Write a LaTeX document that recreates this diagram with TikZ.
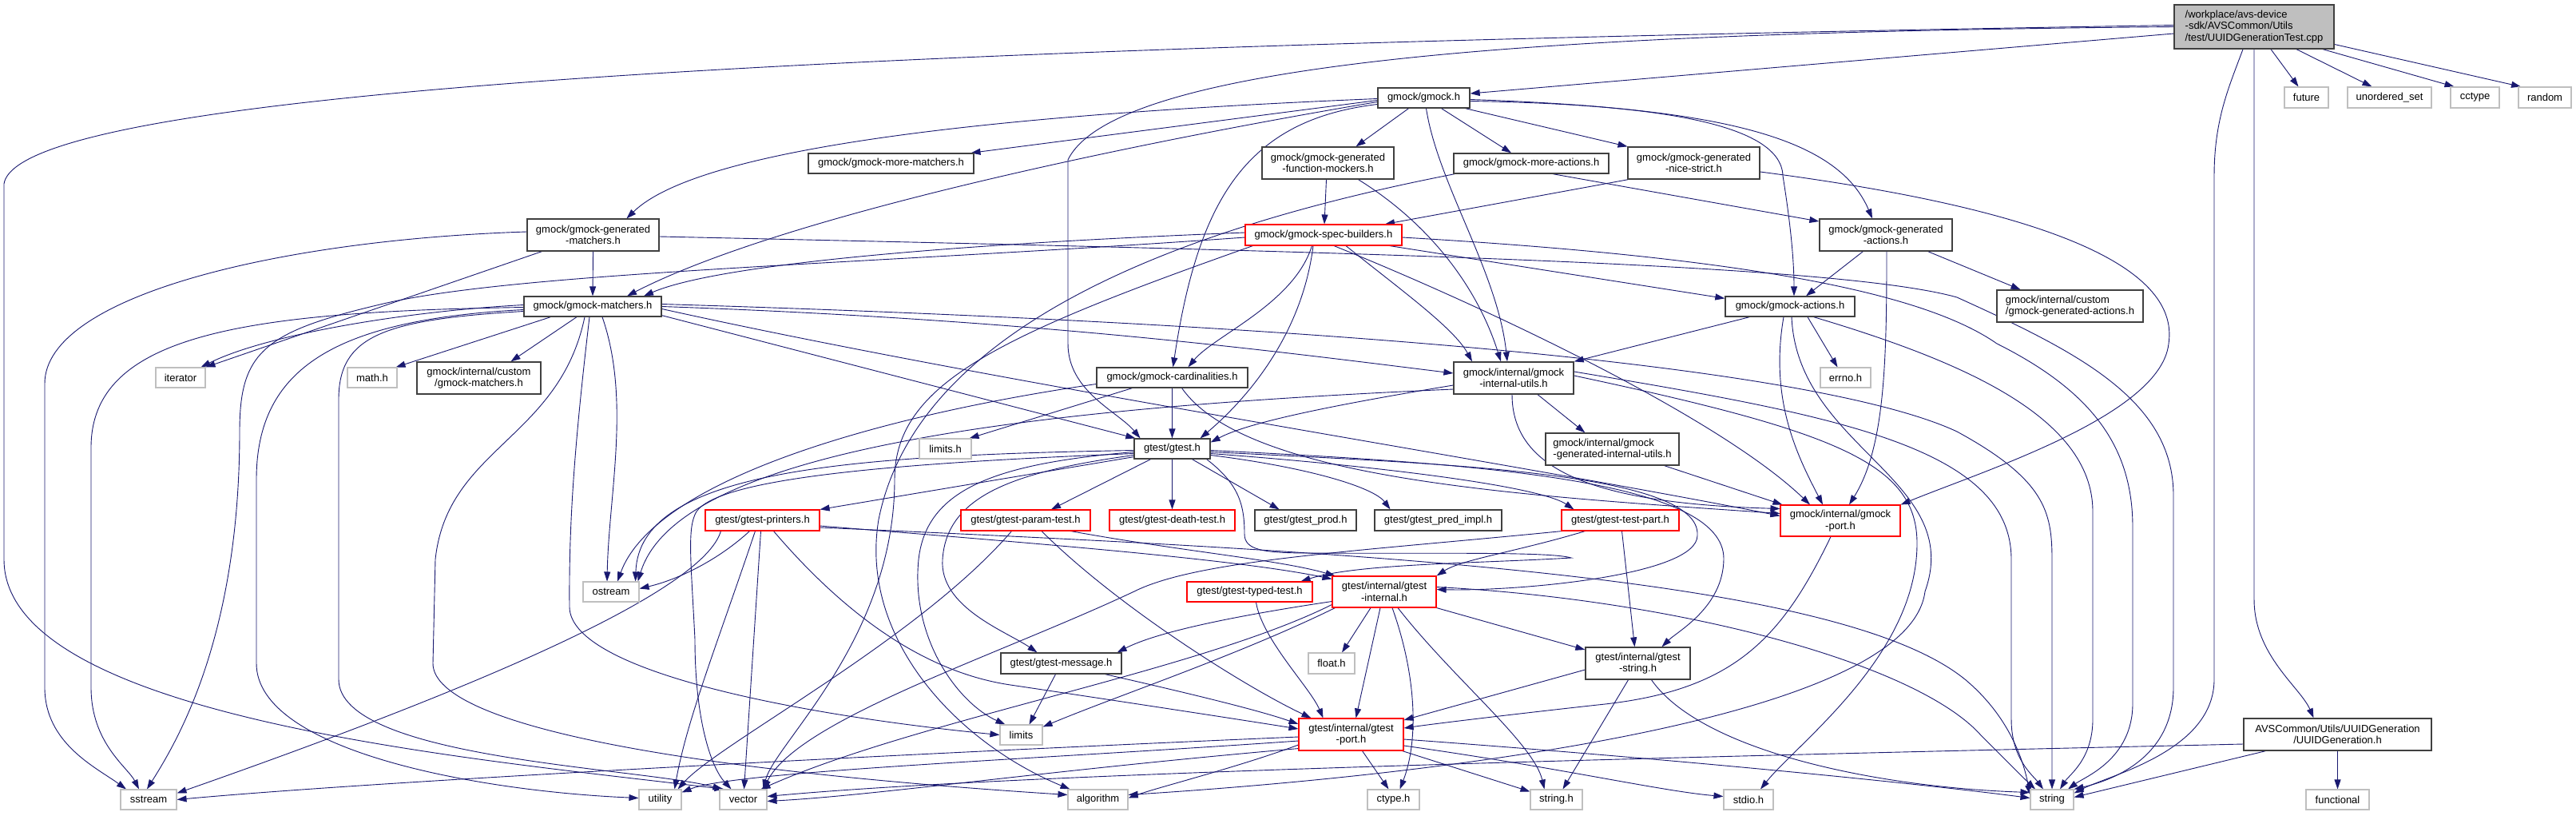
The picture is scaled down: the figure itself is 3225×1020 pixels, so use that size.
\documentclass[tikz,border=0pt]{standalone}
\usepackage{fontspec}
\setmainfont{Liberation Sans}
\usetikzlibrary{arrows.meta,calc,backgrounds}
\definecolor{edgeblue}{HTML}{191970}
\definecolor{sysgray}{HTML}{BFBFBF}
\definecolor{bordk}{HTML}{404040}
\newcommand{\mynode}[6]{\node[#1, minimum width=#4pt, minimum height=#5pt] (#2) at #3 {#6};}
\tikzset{
  hdr/.style={draw=bordk, line width=1.3pt, fill=white, inner sep=0pt, align=center, font=\fontsize{13}{14.5}\selectfont},
  redn/.style={draw=red, line width=1.1pt, fill=white, inner sep=0pt, align=center, font=\fontsize{13}{14.5}\selectfont},
  sysn/.style={draw=sysgray, line width=1.1pt, fill=white, inner sep=0pt, align=center, font=\fontsize{13}{14.5}\selectfont},
  rootn/.style={draw=bordk, line width=1.3pt, fill=sysgray, inner sep=0pt, align=left, font=\fontsize{13}{14.5}\selectfont},
  dep/.style={draw=edgeblue, line width=0.9pt, -{Triangle[length=12pt,width=8pt]}},
}
\begin{document}
\begin{tikzpicture}[x=1pt,y=-1pt]
\useasboundingbox (0,0) rectangle (3225,1020);
% ---------------- nodes
\mynode{rootn}{r}{(2822,33.5)}{200}{55}{/workplace/avs-device\\-sdk/AVSCommon/Utils\\/test/UUIDGenerationTest.cpp}
\mynode{sysn}{fut}{(2887.5,122)}{55}{26}{future}
\mynode{sysn}{uset}{(2991.5,122)}{105}{26}{unordered\_set}
\mynode{sysn}{cct}{(3098.5,122)}{61}{26}{cctype}
\mynode{sysn}{rnd}{(3186,122)}{66}{26}{random}
\mynode{hdr}{gm}{(1782.5,122.5)}{115}{25}{gmock/gmock.h}
\mynode{hdr}{mm}{(1115.5,204.5)}{207}{25}{gmock/gmock-more-matchers.h}
\mynode{hdr}{fm}{(1662.5,204)}{165}{40}{gmock/gmock-generated\\-function-mockers.h}
\mynode{hdr}{ma}{(1917,204.5)}{194}{25}{gmock/gmock-more-actions.h}
\mynode{hdr}{ns}{(2120.5,204)}{165}{40}{gmock/gmock-generated\\-nice-strict.h}
\mynode{hdr}{gmat}{(742.5,294)}{165}{40}{gmock/gmock-generated\\-matchers.h}
\mynode{redn}{sb}{(1657,294)}{196}{26}{gmock/gmock-spec-builders.h}
\mynode{hdr}{gact}{(2361,294)}{166}{40}{gmock/gmock-generated\\-actions.h}
\mynode{hdr}{mat}{(742,383.5)}{172}{25}{gmock/gmock-matchers.h}
\mynode{hdr}{act}{(2241,383.5)}{162}{25}{gmock/gmock-actions.h}
\mynode{hdr,align=left}{cga}{(2591.5,383)}{183}{40}{gmock/internal/custom\\/gmock-generated-actions.h}
\mynode{sysn}{it}{(226,472.5)}{62}{25}{iterator}
\mynode{sysn}{math}{(466,472.5)}{62}{25}{math.h}
\mynode{hdr}{cmat}{(599.5,473)}{155}{40}{gmock/internal/custom\\/gmock-matchers.h}
\mynode{hdr}{card}{(1467.5,472.5)}{189}{25}{gmock/gmock-cardinalities.h}
\mynode{hdr}{iu}{(1895,473)}{150}{40}{gmock/internal/gmock\\-internal-utils.h}
\mynode{sysn}{errno}{(2310.5,472.5)}{63}{25}{errno.h}
\mynode{hdr,align=left}{giu}{(2018.5,562)}{167}{40}{gmock/internal/gmock\\-generated-internal-utils.h}
\mynode{sysn}{limh}{(1183.5,561.5)}{65}{25}{limits.h}
\mynode{hdr}{gt}{(1467.5,561.5)}{95}{25}{gtest/gtest.h}
\mynode{redn}{gmp}{(2304,651.5)}{150}{39}{gmock/internal/gmock\\-port.h}
\mynode{redn}{pr}{(954.5,651)}{143}{26}{gtest/gtest-printers.h}
\mynode{redn}{pt}{(1284,651)}{162}{26}{gtest/gtest-param-test.h}
\mynode{redn}{dt}{(1467.5,651)}{157}{26}{gtest/gtest-death-test.h}
\mynode{hdr}{prod}{(1634.5,651)}{127}{26}{gtest/gtest\_prod.h}
\mynode{hdr}{pred}{(1800.5,651)}{159}{26}{gtest/gtest\_pred\_impl.h}
\mynode{redn}{tp}{(2028.5,651)}{147}{26}{gtest/gtest-test-part.h}
\mynode{sysn}{ost}{(765,740.5)}{70}{25}{ostream}
\mynode{redn}{tt}{(1564.5,740.5)}{157}{25}{gtest/gtest-typed-test.h}
\mynode{redn}{gti}{(1733,740.5)}{130}{39}{gtest/internal/gtest\\-internal.h}
\mynode{hdr}{msg}{(1328.5,830)}{151}{26}{gtest/gtest-message.h}
\mynode{sysn}{flt}{(1667,830)}{58}{26}{float.h}
\mynode{hdr}{gts}{(2050.5,830)}{131}{40}{gtest/internal/gtest\\-string.h}
\mynode{redn}{gtp}{(1691.5,919)}{131}{40}{gtest/internal/gtest\\-port.h}
\mynode{hdr}{uuid}{(2926.5,919)}{235}{40}{AVSCommon/Utils/UUIDGeneration\\/UUIDGeneration.h}
\mynode{sysn}{lim}{(1278.5,919.5)}{53}{25}{limits}
\mynode{sysn}{sst}{(186,1000.5)}{70}{25}{sstream}
\mynode{sysn}{util}{(826.5,1000.5)}{53}{25}{utility}
\mynode{sysn}{vec}{(930.5,1000.5)}{59}{25}{vector}
\mynode{sysn}{alg}{(1374.5,1000.5)}{75}{25}{algorithm}
\mynode{sysn}{cty}{(1744.5,1000.5)}{65}{25}{ctype.h}
\mynode{sysn}{strh}{(1948.5,1000.5)}{65}{25}{string.h}
\mynode{sysn}{stdio}{(2189,1000.5)}{62}{25}{stdio.h}
\mynode{sysn}{str}{(2569,1000.5)}{54}{25}{string}
\mynode{sysn}{func}{(2926.5,1000.5)}{79}{25}{functional}
% ---------------- edges
\begin{pgfonlayer}{background}
\fill[white] (0,0) rectangle (3225,1020);
% root
\draw[dep] ($(r.south)+(21,0)$) -- ($(fut.north)+(-10,0)$);
\draw[dep] ($(r.south)+(53,0)$) -- ($(uset.north)+(-22,0)$);
\draw[dep] ($(r.south)+(86,0)$) -- ($(cct.north)+(-26,0)$);
\draw[dep] ($(r.east)+(0,22)$) -- ($(rnd.north)+(-30,0)$);
\draw[dep] ($(r.south)+(-14,0)$) .. controls (2790,110) and (2772,150) .. (2772,220) -- (2772,850) .. controls (2772,940) and (2640,970) .. ($(str.east)+(0,-8)$);
\draw[dep] (r.south) -- (2822,750) .. controls (2822,820) and (2880,860) .. ($(uuid.north)+(-30,0)$);
\draw[dep] ($(r.west)+(0,8.5)$) -- ($(gm.east)+(0,-5.5)$);
\draw[dep] (r.west) .. controls (2000,40) and (1400,70) .. (1337,200) -- (1337,430) .. controls (1337,490) and (1400,515) .. ($(gt.north)+(-40,0)$);
\draw[dep] ($(r.west)+(0,-2)$) .. controls (1300,55) and (25,100) .. (5,230) -- (5,700) .. controls (5,900) and (600,950) .. ($(vec.north)+(-24,0)$);
% gmock.h
\draw[dep] ($(gm.south)+(-19,0)$) -- ($(fm.north)+(35,0)$);
\draw[dep] ($(gm.south)+(3,0)$) .. controls (1800,230) and (1875,340) .. ($(iu.north)+(-8,0)$);
\draw[dep] ($(gm.south)+(22,0)$) -- ($(ma.north)+(-25,0)$);
\draw[dep] ($(gm.south)+(52,0)$) -- ($(ns.north)+(-83,0)$);
\draw[dep] ($(gm.east)+(0,4)$) .. controls (2050,130) and (2230,150) .. (2232,220) .. controls (2240,270) and (2246,320) .. ($(act.north)+(5,0)$);
\draw[dep] ($(gm.east)+(0,2)$) .. controls (2150,135) and (2300,170) .. ($(gact.north)+(-17,0)$);
\draw[dep] ($(gm.west)+(0,1)$) .. controls (1200,145) and (870,190) .. ($(gmat.north)+(42,0)$);
\draw[dep] ($(gm.west)+(0,3)$) -- ($(mm.north)+(100,0)$);
\draw[dep] ($(gm.west)+(0,5)$) .. controls (1500,165) and (1000,260) .. ($(mat.north)+(43,0)$);
\draw[dep] ($(gm.west)+(0,8)$) .. controls (1560,150) and (1500,250) .. ($(card.north)+(1,0)$);
% function mockers
\draw[dep] ($(fm.south)+(-2,0)$) -- ($(sb.north)+(1,0)$);
\draw[dep] ($(fm.south)+(38,0)$) .. controls (1790,280) and (1850,360) .. ($(iu.north)+(-16,0)$);
% more actions
\draw[dep] ($(ma.south west)+(2,0)$) .. controls (1500,280) and (1150,400) .. (1100,650) .. controls (1075,800) and (1200,930) .. ($(alg.north)+(-35,0)$);
\draw[dep] ($(ma.south)+(27,0)$) -- ($(gact.west)+(0,-17)$);
% nice strict
\draw[dep] ($(ns.south west)+(1,0)$) -- ($(sb.north)+(77,0)$);
\draw[dep] ($(ns.east)+(0,11)$) .. controls (2550,260) and (2730,330) .. (2715,430) .. controls (2705,520) and (2480,590) .. (gmp.north east);
% generated matchers
\draw[dep] ($(gmat.west)+(0,-4)$) .. controls (350,300) and (56,370) .. (56,480) -- (56,860) .. controls (56,930) and (120,960) .. ($(sst.north)+(-28,0)$);
\draw[dep] ($(gmat.south west)+(19,0)$) -- (it.north east);
\draw[dep] (gmat.south) -- (mat.north);
\draw[dep] ($(gmat.east)+(0,2)$) .. controls (1700,315) and (2300,330) .. (2450,372) .. controls (2600,440) and (2721,500) .. (2721,620) -- (2721,860) .. controls (2721,945) and (2650,975) .. (str.north east);
% spec builders
\draw[dep] ($(sb.west)+(0,-3)$) .. controls (1200,305) and (900,330) .. ($(mat.north)+(64,0)$);
\draw[dep] ($(sb.west)+(0,3)$) .. controls (1100,330) and (650,340) .. (480,380) .. controls (330,415) and (300,440) .. (300,540) .. controls (300,800) and (220,930) .. ($(sst.north)+(-2,0)$);
\draw[dep] ($(sb.south west)+(10,0)$) .. controls (1250,420) and (1120,480) .. (1120,600) .. controls (1120,800) and (970,930) .. ($(vec.north)+(25,0)$);
\draw[dep] ($(sb.south east)+(-16,0)$) -- ($(act.north west)+(0,3)$);
\draw[dep] ($(sb.south west)+(84,0)$) .. controls (1620,380) and (1520,420) .. ($(card.north)+(20,0)$);
\draw[dep] ($(sb.south)+(-13,0)$) .. controls (1630,420) and (1560,500) .. ($(gt.north east)+(-13,0)$);
\draw[dep] ($(sb.south)+(28,0)$) .. controls (1750,360) and (1820,410) .. ($(iu.north)+(-52,0)$);
\draw[dep] ($(sb.south)+(13,0)$) .. controls (1850,380) and (2150,520) .. ($(gmp.north)+(-38,0)$);
\draw[dep] ($(sb.east)+(0,3)$) .. controls (2150,320) and (2400,360) .. (2500,430) .. controls (2620,490) and (2670,560) .. (2670,660) -- (2670,880) .. controls (2670,950) and (2610,972) .. ($(str.north)+(20,0)$);
% matchers
\draw[dep] ($(mat.south west)+(34,0)$) -- ($(math.north east)+(-2,0)$);
\draw[dep] ($(mat.south)+(-20,0)$) -- ($(cmat.north)+(40,0)$);
\draw[dep] ($(mat.west)+(0,-2)$) .. controls (500,390) and (330,420) .. ($(it.north east)+(-6,0)$);
\draw[dep] ($(mat.west)+(0,1)$) .. controls (300,390) and (114,420) .. (114,560) -- (114,860) .. controls (114,930) and (160,960) .. ($(sst.north)+(-12,0)$);
\draw[dep] ($(mat.west)+(0,4)$) .. controls (420,400) and (321,460) .. (321,600) -- (321,830) .. controls (321,940) and (600,990) .. ($(util.west)+(0,-2)$);
\draw[dep] ($(mat.west)+(0,6)$) .. controls (480,400) and (424,420) .. (424,500) -- (424,850) .. controls (424,950) and (800,960) .. ($(vec.north west)+(4,0)$);
\draw[dep] ($(mat.south)+(-10,0)$) .. controls (700,550) and (560,560) .. (545,700) -- (542,830) .. controls (542,900) and (800,960) .. ($(alg.west)+(0,-6)$);
\draw[dep] ($(mat.south)+(-4,0)$) .. controls (720,550) and (712,650) .. (713,760) .. controls (715,840) and (1000,895) .. (lim.west);
\draw[dep] ($(mat.south)+(12,0)$) .. controls (790,500) and (762,620) .. ($(ost.north)+(-5,0)$);
\draw[dep] ($(mat.east)+(0,-3)$) .. controls (1800,410) and (2300,470) .. (2450,540) .. controls (2560,600) and (2569,640) .. (2569,700) -- (str.north);
\draw[dep] (mat.east) .. controls (1300,400) and (1600,440) .. ($(iu.west)+(0,-6)$);
\draw[dep] ($(mat.south east)+(0,-2)$) -- ($(gt.north west)+(2,0)$);
\draw[dep] ($(mat.east)+(0,3)$) .. controls (1250,480) and (1900,580) .. ($(gmp.west)+(0,-6)$);
% actions
\draw[dep] ($(act.south)+(22,0)$) -- ($(errno.north)+(-10,0)$);
\draw[dep] ($(act.south west)+(31,0)$) -- (iu.north east);
\draw[dep] ($(act.south)+(-8,0)$) .. controls (2215,500) and (2250,570) .. ($(gmp.north)+(-22,0)$);
\draw[dep] ($(act.south)+(2,0)$) .. controls (2250,560) and (2460,600) .. (2410,740) .. controls (2390,900) and (1800,970) .. ($(alg.east)+(0,-6)$);
\draw[dep] ($(act.south east)+(-52,0)$) .. controls (2450,450) and (2620,520) .. (2620,640) -- (2620,900) .. controls (2620,950) and (2590,970) .. ($(str.north)+(10,0)$);
% generated actions
\draw[dep] ($(gact.south west)+(55,0)$) -- ($(act.north)+(20,0)$);
\draw[dep] ($(gact.south)+(1,0)$) .. controls (2362,450) and (2360,560) .. ($(gmp.north)+(11,0)$);
\draw[dep] ($(gact.south east)+(-31,0)$) -- ($(cga.north)+(-62,0)$);
% cardinalities
\draw[dep] ($(card.south west)+(45,0)$) -- ($(limh.north east)+(-3,0)$);
\draw[dep] (card.south) -- (gt.north);
\draw[dep] ($(card.west)+(0,8)$) .. controls (1100,520) and (820,600) .. ($(ost.north)+(8,0)$);
\draw[dep] ($(card.south east)+(-83,0)$) .. controls (1560,600) and (1900,620) .. ($(gmp.west)+(0,-9)$);
% internal utils
\draw[dep] ($(iu.south)+(30,0)$) -- ($(giu.north west)+(50,0)$);
\draw[dep] ($(iu.south)+(-2,0)$) .. controls (1893,590) and (2000,630) .. ($(gmp.west)+(0,-15)$);
\draw[dep] ($(iu.west)+(0,9)$) .. controls (1650,510) and (1560,530) .. ($(gt.east)+(0,-8)$);
\draw[dep] ($(iu.west)+(0,14)$) .. controls (1300,510) and (850,560) .. ($(ost.north east)+(-2,0)$);
\draw[dep] ($(iu.east)+(0,-8)$) .. controls (2300,520) and (2518,560) .. (2518,700) -- (2518,900) .. controls (2518,950) and (2545,970) .. ($(str.north)+(-11,0)$);
\draw[dep] ($(iu.east)+(0,-3)$) .. controls (2300,540) and (2400,580) .. (2400,680) .. controls (2400,820) and (2250,930) .. ($(stdio.north)+(15,0)$);
\draw[dep] ($(giu.south east)+(-19,0)$) -- ($(gmp.north west)+(3,0)$);
% gmock-port
\draw[dep] ($(gmp.south)+(-12,0)$) .. controls (2230,800) and (2170,865) .. (2000,882) .. controls (1900,893) and (1800,905) .. ($(gtp.east)+(0,-8)$);
% gtest.h
\draw[dep] (gt.south) -- (dt.north);
\draw[dep] ($(gt.south)+(-27,0)$) -- ($(pt.north)+(32,0)$);
\draw[dep] ($(gt.south west)+(0,-3)$) -- (pr.north east);
\draw[dep] ($(gt.south)+(25,0)$) -- ($(prod.north)+(-33,0)$);
\draw[dep] ($(gt.east)+(0,8)$) .. controls (1640,585) and (1720,610) .. ($(pred.north)+(-60,0)$);
\draw[dep] ($(gt.east)+(0,6)$) .. controls (1750,585) and (1930,610) .. ($(tp.north)+(-58,0)$);
\draw[dep] ($(gt.east)+(0,4)$) .. controls (1800,580) and (2130,590) .. (2125,670) .. controls (2125,720) and (1900,740) .. ($(gti.east)+(0,-3)$);
\draw[dep] ($(gt.east)+(0,2)$) .. controls (1850,580) and (2160,600) .. (2158,700) .. controls (2157,760) and (2100,790) .. ($(gts.north)+(30,0)$);
\draw[dep] ($(gt.south east)+(-5,0)$) .. controls (1550,605) and (1558,630) .. (1558,668) .. controls (1558,688) and (1580,692) .. (1640,692) .. controls (1800,693) and (1940,690) .. (1967,698) .. controls (1850,705) and (1700,705) .. ($(tt.north east)+(-15,0)$);
\draw[dep] ($(gt.west)+(0,4)$) .. controls (1250,580) and (1160,610) .. (1150,700) .. controls (1140,800) and (1200,880) .. ($(lim.north)+(-20,0)$);
\draw[dep] ($(gt.west)+(0,8)$) .. controls (1270,590) and (1185,620) .. (1180,700) .. controls (1176,760) and (1260,790) .. ($(msg.north)+(-30,0)$);
\draw[dep] ($(gt.west)+(0,2)$) .. controls (1050,570) and (800,590) .. ($(ost.north east)+(-5,0)$);
\draw[dep] ($(gt.west)+(0,6)$) .. controls (1100,580) and (900,600) .. (872,640) .. controls (860,660) and (865,700) .. (870,800) .. controls (870,900) and (890,960) .. ($(vec.north)+(-15,0)$);
% printers
\draw[dep] ($(pr.south west)+(20,0)$) .. controls (880,740) and (600,860) .. ($(sst.east)+(0,-8)$);
\draw[dep] ($(pr.south west)+(56,0)$) .. controls (900,700) and (850,725) .. ($(ost.east)+(0,-4)$);
\draw[dep] ($(pr.south west)+(63,0)$) .. controls (900,800) and (860,900) .. ($(util.north)+(18,0)$);
\draw[dep] ($(pr.south)+(-2,0)$) -- ($(vec.north)+(1,0)$);
\draw[dep] ($(pr.south)+(14,0)$) .. controls (1050,760) and (1150,840) .. (1265,857) .. controls (1400,877) and (1550,900) .. ($(gtp.west)+(0,-7)$);
\draw[dep] ($(pr.east)+(0,7)$) .. controls (1300,680) and (1550,700) .. ($(gti.north west)+(0,4)$);
\draw[dep] ($(pr.east)+(0,9)$) .. controls (1700,690) and (2300,720) .. (2460,850) .. controls (2520,900) and (2535,960) .. ($(str.west)+(0,-6)$);
% param test
\draw[dep] ($(pt.south west)+(64,0)$) .. controls (1150,800) and (900,930) .. ($(util.north east)+(-5,0)$);
\draw[dep] ($(pt.south)+(20,0)$) .. controls (1400,760) and (1560,860) .. ($(gtp.north)+(-50,0)$);
\draw[dep] ($(pt.south east)+(-25,0)$) .. controls (1480,690) and (1600,700) .. ($(gti.north west)+(4,0)$);
% typed test
\draw[dep] ($(tt.south)+(8,0)$) .. controls (1580,800) and (1640,860) .. ($(gtp.north)+(-35,0)$);
% test part
\draw[dep] ($(tp.south)+(2,0)$) -- ($(gts.north)+(-4,0)$);
\draw[dep] ($(tp.south west)+(30,0)$) .. controls (1900,690) and (1830,700) .. (gti.north east);
\draw[dep] ($(tp.south west)+(1,0)$) .. controls (1700,690) and (1500,700) .. (1420,740) .. controls (1250,820) and (1000,900) .. ($(vec.north east)+(-5,0)$);
% gtest-internal
\draw[dep] ($(gti.south)+(-17,0)$) -- ($(flt.north)+(13,0)$);
\draw[dep] ($(gti.south)+(-5,0)$) -- ($(gtp.north)+(6,0)$);
\draw[dep] ($(gti.south)+(10,0)$) .. controls (1775,850) and (1775,930) .. ($(cty.north)+(8,0)$);
\draw[dep] ($(gti.south)+(17,0)$) .. controls (1820,850) and (1920,930) .. ($(strh.north)+(-15,0)$);
\draw[dep] (gti.south east) -- ($(gts.west)+(0,-17)$);
\draw[dep] ($(gti.west)+(0,12)$) .. controls (1550,770) and (1450,790) .. ($(msg.north east)+(-6,0)$);
\draw[dep] ($(gti.south west)+(4,0)$) .. controls (1550,820) and (1400,870) .. ($(lim.north east)+(0,3)$);
\draw[dep] ($(gti.west)+(0,16)$) .. controls (1500,840) and (1150,900) .. ($(vec.north)+(22,0)$);
\draw[dep] ($(gti.east)+(0,-6)$) .. controls (2100,750) and (2400,830) .. (2480,920) .. controls (2515,955) and (2535,975) .. ($(str.north)+(-21,0)$);
% message
\draw[dep] ($(msg.south)+(-7,0)$) -- ($(lim.north)+(10,0)$);
\draw[dep] ($(msg.south east)+(-21,0)$) .. controls (1500,870) and (1580,890) .. ($(gtp.west)+(0,-13)$);
% gtest-string
\draw[dep] ($(gts.west)+(0,8)$) -- ($(gtp.east)+(0,-18)$);
\draw[dep] ($(gts.south)+(-12,0)$) -- ($(strh.north)+(8,0)$);
\draw[dep] ($(gts.south)+(17,0)$) .. controls (2130,940) and (2350,985) .. ($(str.west)+(0,-9)$);
% gtest-port
\draw[dep] ($(gtp.south)+(14,0)$) -- ($(cty.north)+(-6,0)$);
\draw[dep] ($(gtp.south east)+(-2,0)$) -- ($(strh.north west)+(0,3)$);
\draw[dep] ($(gtp.east)+(0,14)$) .. controls (1950,960) and (2080,990) .. ($(stdio.west)+(0,-4)$);
\draw[dep] ($(gtp.east)+(0,6)$) .. controls (2100,950) and (2400,980) .. ($(str.west)+(0,-2)$);
\draw[dep] ($(gtp.west)+(0,3)$) .. controls (1200,940) and (500,975) .. (sst.east);
\draw[dep] ($(gtp.west)+(0,8)$) .. controls (1300,950) and (920,965) .. ($(util.north east)+(0,4)$);
\draw[dep] ($(gtp.west)+(0,13)$) .. controls (1550,960) and (1450,985) .. ($(alg.east)+(0,-2)$);
\draw[dep] ($(gtp.south west)+(0,-3)$) .. controls (1300,965) and (1100,995) .. ($(vec.east)+(0,2)$);
% UUIDGeneration
\draw[dep] (uuid.south) -- (func.north);
\draw[dep] ($(uuid.south west)+(28,0)$) -- ($(str.east)+(0,-3)$);
\draw[dep] ($(uuid.west)+(0,12)$) .. controls (2200,945) and (1300,965) .. ($(vec.east)+(0,-4)$);
\end{pgfonlayer}
\end{tikzpicture}
\end{document}
